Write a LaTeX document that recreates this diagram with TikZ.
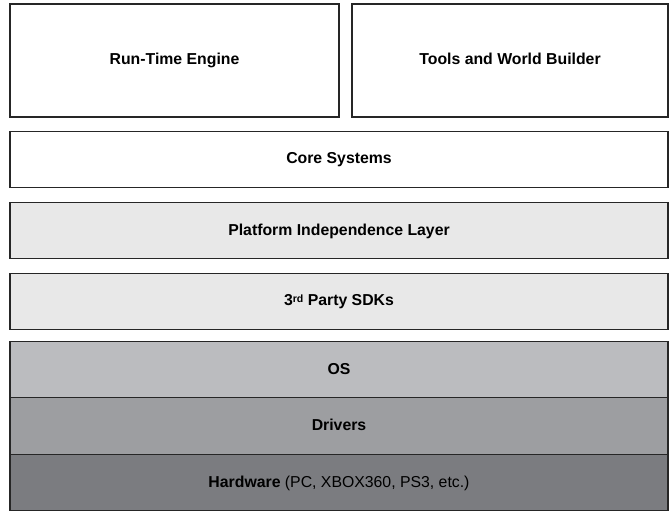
\documentclass[tikz,border=0pt]{standalone}
\usepackage{fontspec}
\setmainfont{Liberation Sans}
\usetikzlibrary{positioning}
\definecolor{paleGray}{HTML}{E8E8E8}
\definecolor{osGray}{HTML}{BBBCBF}
\definecolor{drvGray}{HTML}{9D9EA1}
\definecolor{hwGray}{HTML}{7B7C80}
\newcommand{\px}{0.02cm}

\begin{document}
\begin{tikzpicture}[x=0.02cm,y=-0.02cm,
    layer/.style={draw=black!85,line width=0.6pt,inner sep=0pt,outer sep=0pt,
                  minimum height=56.5*\px,align=center,text height=6.5pt,text depth=1.5pt,
                  font=\fontsize{9}{11}\selectfont}]
    \useasboundingbox (0,0) rectangle (669,511);
    % top row
    \node[layer,fill=white,minimum width=329*\px,minimum height=113*\px] (engine) at (174.5,60.5) {\textbf{Run-Time Engine}};
    \node[layer,fill=white,minimum width=316*\px,minimum height=113*\px] (tools) at (510,60.5) {\textbf{Tools and World Builder}};
    % full-width layers
    \node[layer,fill=white,minimum width=658*\px] (core) at (339,159.6) {\textbf{Core Systems}};
    \node[layer,fill=paleGray,minimum width=658*\px] (pil) at (339,230.7) {\textbf{Platform Independence Layer}};
    \node[layer,fill=paleGray,minimum width=658*\px] (sdk) at (339,301.5)
      {\textbf{3\raisebox{0.45ex}{\fontsize{6}{6}\selectfont rd} Party SDKs}};
    \node[layer,fill=osGray,minimum width=658*\px] (os) at (339,369.7) {\textbf{OS}};
    \node[layer,fill=drvGray,minimum width=658*\px,below=0pt of os] (drivers) {\textbf{Drivers}};
    \node[layer,fill=hwGray,minimum width=658*\px,below=0pt of drivers] (hardware) {\textbf{Hardware} (PC, XBOX360, PS3, etc.)};
\end{tikzpicture}
\end{document}
